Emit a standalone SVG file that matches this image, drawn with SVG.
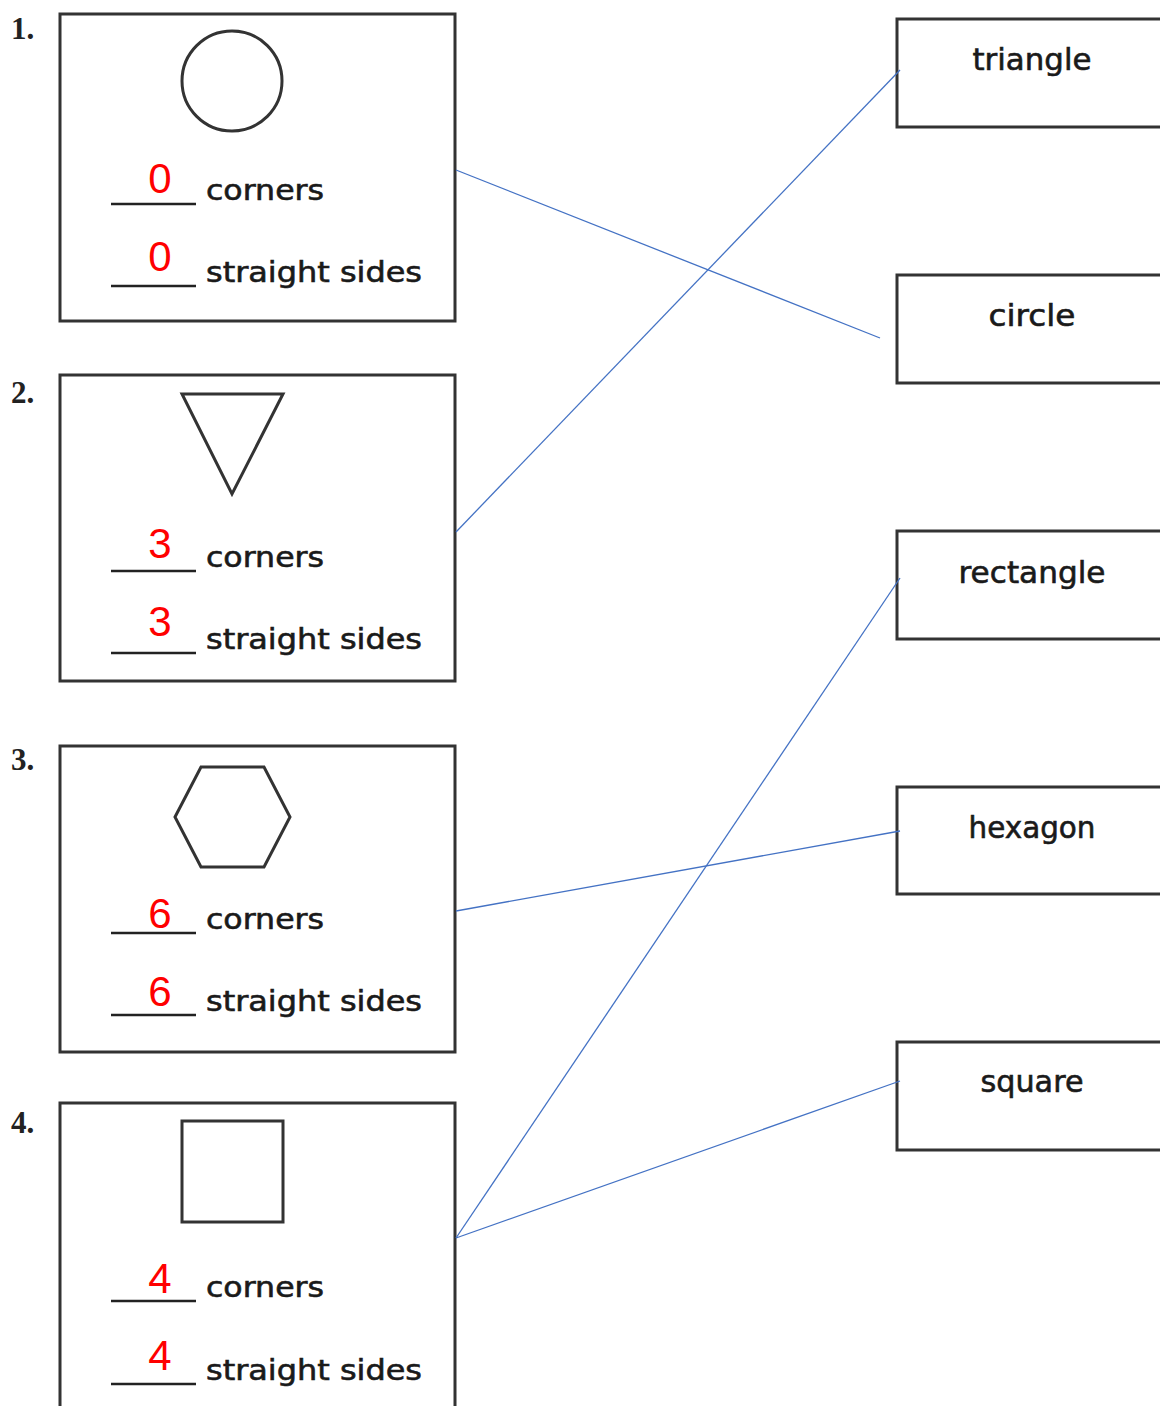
<svg xmlns="http://www.w3.org/2000/svg" width="1160" height="1406" viewBox="0 0 1160 1406">
<style>
.box{fill:#fff;stroke:#333;stroke-width:3}
.shape{fill:none;stroke:#333;stroke-width:3}
.ul{stroke:#222;stroke-width:2.5}
.t{font-family:"DejaVu Sans",sans-serif;font-size:28px;fill:#1a1a1a;stroke:#1a1a1a;stroke-width:0.6}
.lbl{font-family:"DejaVu Sans",sans-serif;font-size:30px;fill:#1a1a1a;stroke:#1a1a1a;stroke-width:0.6;text-anchor:middle}
.num{font-family:"Liberation Serif",serif;font-weight:bold;font-size:31px;fill:#222}
.red{font-family:"Liberation Sans",sans-serif;font-size:42px;fill:#ff0000;text-anchor:middle}
.conn line{stroke:#4472C4;stroke-width:1.3}
</style>
<rect width="1160" height="1406" fill="#fff"/>
<g id="shape1">
<text class="num" x="11" y="39">1.</text>
<rect class="box" x="60" y="14" width="395" height="307"/>
<circle class="shape" cx="232" cy="81" r="50"/>
<line class="ul" x1="111" y1="204" x2="196" y2="204"/>
<text class="red" x="160" y="193">0</text>
<text class="t" x="206" y="200" textLength="118" lengthAdjust="spacingAndGlyphs">corners</text>
<line class="ul" x1="111" y1="286" x2="196" y2="286"/>
<text class="red" x="160" y="271">0</text>
<text class="t" x="206" y="282" textLength="216" lengthAdjust="spacingAndGlyphs">straight sides</text>
</g>
<g id="shape2">
<text class="num" x="11" y="403">2.</text>
<rect class="box" x="60" y="375" width="395" height="306"/>
<polygon class="shape" points="182,394 283,394 232,494"/>
<line class="ul" x1="111" y1="571" x2="196" y2="571"/>
<text class="red" x="160" y="558">3</text>
<text class="t" x="206" y="567" textLength="118" lengthAdjust="spacingAndGlyphs">corners</text>
<line class="ul" x1="111" y1="653" x2="196" y2="653"/>
<text class="red" x="160" y="636">3</text>
<text class="t" x="206" y="649" textLength="216" lengthAdjust="spacingAndGlyphs">straight sides</text>
</g>
<g id="shape3">
<text class="num" x="11" y="770">3.</text>
<rect class="box" x="60" y="746" width="395" height="306"/>
<polygon class="shape" points="175,817 201,767 264,767 290,817 264,867 201,867"/>
<line class="ul" x1="111" y1="933" x2="196" y2="933"/>
<text class="red" x="160" y="928">6</text>
<text class="t" x="206" y="929" textLength="118" lengthAdjust="spacingAndGlyphs">corners</text>
<line class="ul" x1="111" y1="1015" x2="196" y2="1015"/>
<text class="red" x="160" y="1006">6</text>
<text class="t" x="206" y="1011" textLength="216" lengthAdjust="spacingAndGlyphs">straight sides</text>
</g>
<g id="shape4">
<text class="num" x="11" y="1133">4.</text>
<rect class="box" x="60" y="1103" width="395" height="320"/>
<rect class="shape" x="182" y="1121" width="101" height="101"/>
<line class="ul" x1="111" y1="1301" x2="196" y2="1301"/>
<text class="red" x="160" y="1293">4</text>
<text class="t" x="206" y="1297" textLength="118" lengthAdjust="spacingAndGlyphs">corners</text>
<line class="ul" x1="111" y1="1384" x2="196" y2="1384"/>
<text class="red" x="160" y="1370">4</text>
<text class="t" x="206" y="1380" textLength="216" lengthAdjust="spacingAndGlyphs">straight sides</text>
</g>
<g id="name-triangle">
<rect class="box" x="897" y="19" width="280" height="108"/>
<text class="lbl" x="1032" y="70" textLength="119" lengthAdjust="spacingAndGlyphs">triangle</text>
</g>
<g id="name-circle">
<rect class="box" x="897" y="275" width="280" height="108"/>
<text class="lbl" x="1032" y="326" textLength="87" lengthAdjust="spacingAndGlyphs">circle</text>
</g>
<g id="name-rectangle">
<rect class="box" x="897" y="531" width="280" height="108"/>
<text class="lbl" x="1032" y="583" textLength="147" lengthAdjust="spacingAndGlyphs">rectangle</text>
</g>
<g id="name-hexagon">
<rect class="box" x="897" y="787" width="280" height="107"/>
<text class="lbl" x="1032" y="838" textLength="127" lengthAdjust="spacingAndGlyphs">hexagon</text>
</g>
<g id="name-square">
<rect class="box" x="897" y="1042" width="280" height="108"/>
<text class="lbl" x="1032" y="1092" textLength="103" lengthAdjust="spacingAndGlyphs">square</text>
</g>
<g id="connectors" class="conn">
<line x1="456" y1="170" x2="880" y2="338"/>
<line x1="456" y1="532" x2="900" y2="70"/>
<line x1="456" y1="911" x2="900" y2="831"/>
<line x1="456" y1="1238" x2="900" y2="578"/>
<line x1="456" y1="1238" x2="900" y2="1081"/>
</g>
</svg>
